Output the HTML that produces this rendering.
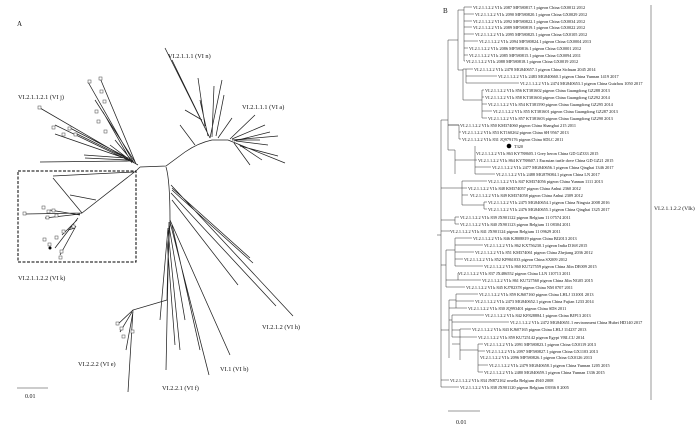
<!DOCTYPE html>
<html><head><meta charset="utf-8"><style>
html,body{margin:0;padding:0;background:#fff;}
svg{display:block;}
text{font-family:"Liberation Serif",serif;fill:#111;}
.l{font-size:4.3px;}
.c{font-size:6.3px;}
</style></head><body>
<svg width="700" height="428" viewBox="0 0 700 428" xmlns="http://www.w3.org/2000/svg">
<g stroke="#222" stroke-width="0.75" fill="none">
<path d="M140,167 L166,166 L185,152 Q198,143 212,140 L228,140"/>
<path d="M166,167 Q170,180 170,220 L170,225 Q168,245 167,300"/>
<path d="M140,167 L137,170"/>
<path d="M210,138 L165,48 M207,132 L172,60 M205,126 L198,78 M202,120 L185,110 M195,145 L180,125 M210,138 L222,80 M216,136 L224,95 M218,138 L232,118 M208,136 L200,100 M212,137 L214,86"/>
<path d="M228,140 L285,163 M232,140 L278,136 M236,141 L268,145 M234,143 L250,165 M240,146 L278,156 M230,139 L255,115 M232,139 L265,125 M236,140 L260,140 M238,144 L262,160 M234,141 L270,132"/>
<path d="M138,165 L40,108 M136,164 L100,78 M134,163 L88,82 M132,162 L55,125 M130,161 L40,162 M128,158 L70,128 M135,162 L95,100 M130,160 L75,133 M126,158 L84,155 M132,163 L103,112 M134,163 L110,145 M130,160 L55,134 M128,160 L85,158 M133,162 L115,140"/>
<path d="M137,170 L82,213 L53,178 M96,200 L70,195 M134,172 L53,176 M82,213 L25,214 M80,214 L45,218 M78,218 L55,248 M77,220 L62,235 M76,226 L60,255 M75,228 L68,230 M80,215 L50,210"/>
<path d="M171,185 L293,316 M172,190 L253,263 M172,200 L238,285 M171,193 L276,306 M172,188 L250,258"/>
<path d="M170,220 L230,355 M170,222 L209,375 M172,225 L200,350 M169,222 L166,370 M168,230 L180,350 M167,240 L175,345 M168,228 L160,320 M169,226 L185,320"/>
<path d="M167,300 L133,310 L128,392 M133,310 L117,325 M132,312 L120,332 M133,312 L126,350"/>
</g>
<g stroke="#444" stroke-width="0.5" fill="#fff">
<rect x="38" y="106" width="3" height="3"/><rect x="52" y="126" width="3" height="3"/><rect x="62" y="133" width="3" height="3"/><rect x="68" y="127" width="3" height="3"/><rect x="88" y="80" width="3" height="3"/><rect x="99" y="77" width="3" height="3"/><rect x="100" y="90" width="3" height="3"/><rect x="103" y="100" width="3" height="3"/><rect x="95" y="110" width="3" height="3"/><rect x="97" y="120" width="3" height="3"/><rect x="74" y="133" width="3" height="3"/><rect x="104" y="130" width="3" height="3"/>
<rect x="23" y="212" width="3" height="3"/><rect x="42" y="206" width="3" height="3"/><rect x="47" y="210" width="3" height="3"/><rect x="52" y="209" width="3" height="3"/><rect x="46" y="216" width="3" height="3"/><rect x="55" y="214" width="3" height="3"/><rect x="43" y="238" width="3" height="3"/><rect x="48" y="243" width="3" height="3"/><rect x="55" y="236" width="3" height="3"/><rect x="62" y="230" width="3" height="3"/><rect x="60" y="250" width="3" height="3"/><rect x="72" y="225" width="3" height="3"/><rect x="59" y="256" width="3" height="3"/>
<rect x="116" y="322" width="3" height="3"/><rect x="120" y="327" width="3" height="3"/><rect x="122" y="335" width="3" height="3"/><rect x="131" y="330" width="3" height="3"/>
</g>
<circle cx="50" cy="248" r="1.5" fill="#000"/>
<rect x="18" y="171" width="118" height="91" fill="none" stroke="#000" stroke-width="1" stroke-dasharray="3,1.5"/>
<line x1="17" y1="388" x2="48" y2="388" stroke="#333" stroke-width="0.6"/>
<text x="17" y="26" style="font-size:7px">A</text>
<text x="168" y="58" class="c">VI.2.1.1.1 (VI n)</text>
<text x="242" y="109" class="c">VI.2.1.1.1 (VI a)</text>
<text x="18" y="99" class="c">VI.2.1.1.2.1 (VI j)</text>
<text x="18" y="280" class="c">VI.2.1.1.2.2 (VI k)</text>
<text x="262" y="329" class="c">VI.2.1.2 (VI h)</text>
<text x="220" y="371" class="c">VI.1 (VI b)</text>
<text x="162" y="390" class="c">VI.2.2.1 (VI f)</text>
<text x="78" y="366" class="c">VI.2.2.2 (VI e)</text>
<text x="25" y="398" style="font-size:6px">0.01</text>

<text x="443" y="13" style="font-size:7px">B</text>
<g stroke="#333" stroke-width="0.5" fill="none">
<path d="M437,235 L441,235 M441,120 L441,383"/>
<path d="M441,120 L448,120 M448,40 L448,150 M448,40 L458,40 M458,10 L458,70 M458,10 L464,10 M464,7 L464,61"/>
<path d="M458,70 L463,70 M463,69 L463,100 M463,69 L466,69 M466,69 L466,83 M463,100 L482,100 M482,90 L482,118"/>
<path d="M448,125 L459,125 M459,125 L459,139 M448,150 L455,150 M455,150 L455,174 M455,160 L475,160 M475,146 L475,174"/>
<path d="M441,188 L462,188 M462,181 L462,205 M462,195 L468,195 M462,205 L484,205 M484,202 L484,209"/>
<path d="M441,220 L455,220 M455,217 L455,224 M441,231 L450,231"/>
<path d="M441,265 L446,265 M446,250 L446,287 M446,250 L455,250 M455,238 L455,266 M455,280 L458,280 M458,273 L458,280 M446,280 L455,280"/>
<path d="M441,330 L449,330 M449,300 L449,358 M449,300 L456,300 M456,294 L456,308 M449,320 L452,320 M452,315 L452,337 M452,330 L460,330 M460,329 L460,337 M460,350 L478,350 M478,344 L478,372 M452,337 L460,337 M452,344 L460,344 M460,337 L460,360"/>
<path d="M441,383 L441,387"/>
<line x1="651" y1="5" x2="651" y2="400"/>
<line x1="448" y1="411" x2="480" y2="411"/>
</g>
<g stroke="#333" stroke-width="0.5">
<line x1="464" y1="7" x2="472" y2="7"/><line x1="464" y1="14" x2="474" y2="14"/><line x1="464" y1="21" x2="472" y2="21"/><line x1="464" y1="27" x2="472" y2="27"/><line x1="464" y1="34" x2="474" y2="34"/><line x1="464" y1="41" x2="478" y2="41"/><line x1="464" y1="48" x2="468" y2="48"/><line x1="464" y1="55" x2="468" y2="55"/><line x1="464" y1="61" x2="465" y2="61"/>
<line x1="466" y1="69" x2="473" y2="69"/><line x1="466" y1="76" x2="497" y2="76"/><line x1="466" y1="83" x2="519" y2="83"/>
<line x1="482" y1="90" x2="484" y2="90"/><line x1="482" y1="97" x2="484" y2="97"/><line x1="482" y1="104" x2="487" y2="104"/><line x1="482" y1="111" x2="492" y2="111"/><line x1="482" y1="118" x2="487" y2="118"/>
<line x1="448" y1="125" x2="459" y2="125"/><line x1="459" y1="132" x2="461" y2="132"/><line x1="459" y1="139" x2="461" y2="139"/>
<line x1="475" y1="160" x2="477" y2="160"/><line x1="475" y1="167" x2="491" y2="167"/><line x1="475" y1="174" x2="495" y2="174"/>
<line x1="462" y1="181" x2="487" y2="181"/><line x1="462" y1="188" x2="467" y2="188"/><line x1="484" y1="202" x2="487" y2="202"/><line x1="484" y1="209" x2="487" y2="209"/>
<line x1="455" y1="217" x2="459" y2="217"/><line x1="455" y1="224" x2="459" y2="224"/>
<line x1="455" y1="238" x2="472" y2="238"/><line x1="455" y1="245" x2="483" y2="245"/><line x1="455" y1="252" x2="474" y2="252"/><line x1="455" y1="259" x2="463" y2="259"/><line x1="455" y1="266" x2="483" y2="266"/>
<line x1="458" y1="280" x2="481" y2="280"/><line x1="446" y1="287" x2="465" y2="287"/>
<line x1="456" y1="294" x2="478" y2="294"/><line x1="456" y1="301" x2="474" y2="301"/><line x1="449" y1="308" x2="467" y2="308"/><line x1="452" y1="315" x2="484" y2="315"/><line x1="452" y1="322" x2="509" y2="322"/>
<line x1="460" y1="329" x2="471" y2="329"/><line x1="460" y1="337" x2="477" y2="337"/><line x1="478" y1="344" x2="483" y2="344"/><line x1="478" y1="351" x2="485" y2="351"/><line x1="478" y1="365" x2="488" y2="365"/><line x1="478" y1="372" x2="483" y2="372"/>
<line x1="441" y1="380" x2="449" y2="380"/><line x1="441" y1="387" x2="459" y2="387"/>
</g>
<circle cx="509" cy="146" r="2.3" fill="#000"/>
<g class="l">
<text x="473" y="9">VI.2.1.1.2.2 VI k 2087 MF580817.1 pigeon China GX0012 2012</text>
<text x="475" y="16">VI.2.1.1.2.2 VI k 2090 MF580820.1 pigeon China GX0029 2012</text>
<text x="473" y="23">VI.2.1.1.2.2 VI k 2092 MF580822.1 pigeon China GX0034 2012</text>
<text x="473" y="29">VI.2.1.1.2.2 VI k 2089 MF580819.1 pigeon China GX0022 2012</text>
<text x="475" y="36">VI.2.1.1.2.2 VI k 2095 MF580825.1 pigeon China GX0105 2012</text>
<text x="479" y="43">VI.2.1.1.2.2 VI k 2094 MF580824.1 pigeon China GX0004 2013</text>
<text x="469" y="50">VI.2.1.1.2.2 VI k 2086 MF580816.1 pigeon China GX0001 2012</text>
<text x="469" y="57">VI.2.1.1.2.2 VI k 2085 MF580815.1 pigeon China GX0094 2011</text>
<text x="466" y="63">VI.2.1.1.2.2 VI k 2088 MF580818.1 pigeon China GX0019 2012</text>
<text x="474" y="71">VI.2.1.1.2.2 VI k 2478 MG840657.1 pigeon China Sichuan 2045 2014</text>
<text x="498" y="78">VI.2.1.1.2.2 VI k 2483 MG840660.1 pigeon China Yunnan 1419 2017</text>
<text x="520" y="85">VI.2.1.1.2.2 VI k 2474 MG840653.1 pigeon China Guizhou 1050 2017</text>
<text x="485" y="92">VI.2.1.1.2.2 VI k 856 KT381602 pigeon China Guangdong GZ288 2013</text>
<text x="485" y="99">VI.2.1.1.2.2 VI k 858 KT381604 pigeon China Guangdong GZ292 2014</text>
<text x="488" y="106">VI.2.1.1.2.2 VI k 854 KT381590 pigeon China Guangdong GZ295 2014</text>
<text x="493" y="113">VI.2.1.1.2.2 VI k 855 KT381601 pigeon China Guangdong GZ287 2013</text>
<text x="488" y="120">VI.2.1.1.2.2 VI k 857 KT381603 pigeon China Guangdong GZ290 2013</text>
<text x="460" y="127">VI.2.1.1.2.2 VI k 850 KM374060 pigeon China Shanghai 215 2011</text>
<text x="462" y="134">VI.2.1.1.2.2 VI k 853 KT160262 pigeon China SH 9567 2013</text>
<text x="462" y="141">VI.2.1.1.2.2 VI k 831 JQ979176 pigeon China SDLC 2011</text>
<text x="514" y="148">T320</text>
<text x="476" y="155">VI.2.1.1.2.2 VI k 863 KY788605.1 Grey heron China GD GZ333 2015</text>
<text x="478" y="162">VI.2.1.1.2.2 VI k 864 KY788607.1 Eurasian turtle dove China GD GZ21 2015</text>
<text x="492" y="169">VI.2.1.1.2.2 VI k 2477 MG840656.1 pigeon China Qinghai 1346 2017</text>
<text x="496" y="176">VI.2.1.1.2.2 VI k 2488 MG878084.1 pigeon China LN 2017</text>
<text x="488" y="183">VI.2.1.1.2.2 VI k 847 KM374056 pigeon China Yunnan 1111 2013</text>
<text x="468" y="190">VI.2.1.1.2.2 VI k 848 KM374057 pigeon China Anhui 2360 2012</text>
<text x="470" y="197">VI.2.1.1.2.2 VI k 849 KM374058 pigeon China Anhui 2309 2012</text>
<text x="488" y="204">VI.2.1.1.2.2 VI k 2475 MG840654.1 pigeon China Ningxia 2008 2016</text>
<text x="488" y="211">VI.2.1.1.2.2 VI k 2476 MG840655.1 pigeon China Qinghai 1325 2017</text>
<text x="460" y="219">VI.2.1.1.2.2 VI k 839 JX901122 pigeon Belgium 11 07574 2011</text>
<text x="460" y="226">VI.2.1.1.2.2 VI k 840 JX901123 pigeon Belgium 11 08304 2011</text>
<text x="450" y="233">VI.2.1.1.2.2 VI k 841 JX901124 pigeon Belgium 11 09629 2011</text>
<text x="473" y="240">VI.2.1.1.2.2 VI k 846 KJ808819 pigeon China BJ2013 2013</text>
<text x="484" y="247">VI.2.1.1.2.2 VI k 862 KX756230.1 pigeon India D168 2015</text>
<text x="475" y="254">VI.2.1.1.2.2 VI k 851 KM374061 pigeon China Zhejiang 2036 2012</text>
<text x="464" y="261">VI.2.1.1.2.2 VI k 852 KP861033 pigeon China SX009 2012</text>
<text x="484" y="268">VI.2.1.1.2.2 VI k 860 KU727559 pigeon China Jilin DE009 2015</text>
<text x="458" y="275">VI.2.1.1.2.2 VI k 837 JX486552 pigeon China LLN 110713 2011</text>
<text x="482" y="282">VI.2.1.1.2.2 VI k 861 KU727560 pigeon China Jilin NG05 2015</text>
<text x="466" y="289">VI.2.1.1.2.2 VI k 845 KJ782378 pigeon China NM 0707 2011</text>
<text x="479" y="296">VI.2.1.1.2.2 VI k 859 KJ607160 pigeon China LHLJ 131001 2013</text>
<text x="475" y="303">VI.2.1.1.2.2 VI k 2473 MG840652.1 pigeon China Fujian 1233 2014</text>
<text x="468" y="310">VI.2.1.1.2.2 VI k 830 JQ993401 pigeon China SDS 2011</text>
<text x="485" y="317">VI.2.1.1.2.2 VI k 842 KF828884.1 pigeon China BJP13 2013</text>
<text x="510" y="324">VI.2.1.1.2.2 VI k 2472 MG840651.1 environment China Hubei HD140 2017</text>
<text x="472" y="331">VI.2.1.1.2.2 VI k 843 KJ607165 pigeon China LHLJ 114237 2013</text>
<text x="478" y="339">VI.2.1.1.2.2 VI k 859 KU725142 pigeon Egypt VRLCU 2014</text>
<text x="484" y="346">VI.2.1.1.2.2 VI k 2091 MF580823.1 pigeon China GX0119 2013</text>
<text x="486" y="353">VI.2.1.1.2.2 VI k 2097 MF580827.1 pigeon China GX1103 2013</text>
<text x="480" y="359">VI.2.1.1.2.2 VI k 2096 MF580826.1 pigeon China GX0126 2013</text>
<text x="489" y="367">VI.2.1.1.2.2 VI k 2479 MG840658.1 pigeon China Yunnan 1205 2015</text>
<text x="484" y="374">VI.2.1.1.2.2 VI k 2480 MG840659.1 pigeon China Yunnan 1336 2015</text>
<text x="450" y="382">VI.2.1.1.2.2 VI k 834 JN872162 rosella Belgium 4940 2008</text>
<text x="460" y="389">VI.2.1.1.2.2 VI k 838 JX901120 pigeon Belgium 03936 8 2005</text>
</g>
<text x="654" y="210" style="font-size:5.6px">VI.2.1.1.2.2 (VIk)</text>
<text x="456" y="424" style="font-size:6px">0.01</text>
</svg>
</body></html>
